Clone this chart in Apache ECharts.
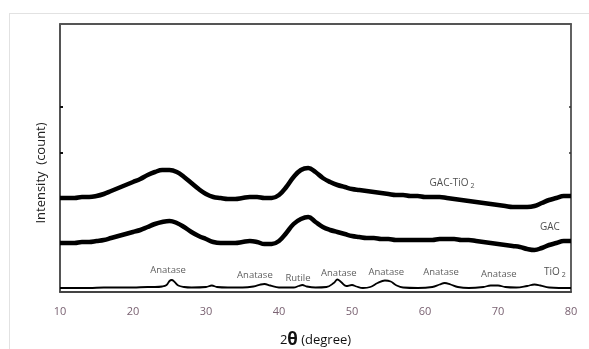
<!DOCTYPE html>
<html>
<head>
<meta charset="utf-8">
<script src="https://cdn.jsdelivr.net/npm/echarts@6/dist/echarts.min.js"></script>
<style>html,body{margin:0;padding:0;background:#fff;}#c{width:589px;height:349px;}</style>
</head>
<body>
<div id="c"></div>
<script>
// 2-theta angles (degree) for the broad GAC patterns
var gacAngles = [10,11,12,13,14,15,16,17,18,19,20,21,22,23,24,25,26,27,28,29,30,31,32,33,34,35,36,37,38,39,40,41,42,43,44,45,46,47,48,49,50,51,52,53,54,55,56,57,58,59,60,61,62,63,64,65,66,67,68,69,70,71,72,73,74,75,76,77,78,79,80];
// Intensity (arbitrary counts)
var gacTio2 = [94,94,94,95,95,96,98,101,104,107,110,113,117,120,122,122,120,115,109,103,98,95,94,93,93,94,95,95,94,94,97,105,115,122,124,120,114,110,107,105,103,102,101,100,99,98,97,97,96,96,95,95,95,94,93,92,91,90,89,88,87,86,85,85,85,86,89,92,94,96,96];
var gac = [49,49,49,50,50,51,52,54,56,58,60,62,65,68,70,71,69,65,60,56,53,50,49,49,49,50,51,50,48,48,51,59,68,73,75,70,65,62,60,58,56,55,54,54,53,53,52,52,52,52,52,52,53,53,53,52,52,51,50,49,48,47,46,45,43,42,44,47,49,51,51];
var tio2Angles = [10,12,14,16,18,20,22,23,24,24.6,25,25.3,25.7,26.2,27,28,30,30.8,31.5,33,35,36.5,37.5,38,38.8,40,42,42.7,43.2,43.8,45,46.5,47.5,48,48.5,49.2,50,50.6,51.5,52.5,53.5,54.5,55.3,56,57,59,61,62,62.7,63.5,64.5,66,68,69,70,71,72.5,74,75,75.8,77,80];
var tio2 = [4,4,4,4.5,4.5,4.5,5,5,5.5,7,11,12,10,6.5,5,4.5,5,6.5,5,4.5,4.5,5.5,7.5,8,6.5,4.5,4.5,6,7,5.5,4.5,5,9,12.5,10,6,7,5.5,4,5,9,11.5,10.5,7,4.5,4,5,7.5,9,7.5,5,4,5,6.5,6.5,5,4.5,6,7.5,6.5,4.5,4];
// Peak annotations
var peakNames = ["Anatase","Anatase","Rutile","Anatase","Anatase","Anatase","Anatase"];
var peakAngles = [24.8,36.7,42.6,48.2,54.7,62.2,70.1];
var peakLabelY = [22,17,14,19,20,20,18];
// Series name labels
var seriesNames = ["GAC-TiO2","GAC","TiO2"];
var seriesLabelAngles = [63.7,77.1,77.8];
var seriesLabelY = [109,65,20];
var yTickMarks = [139,185];

function pairs(xs, ys){ return xs.map(function(x,i){ return [x, ys[i]]; }); }

var chart = echarts.init(document.getElementById('c'));
var fontFam = '"Open Sans", "Noto Sans", sans-serif';
var nameFmt = function(n){
  if (n === 'GAC-TiO2') return '{a|GAC-TiO}{s|2}';
  if (n === 'TiO2') return '{a|TiO}{s|2}';
  return '{a|' + n + '}';
};
var richLbl = {
  a: {fontSize: 10, color: '#222', fontFamily: fontFam},
  s: {fontSize: 7, color: '#222', fontFamily: fontFam, padding: [6,0,0,2]}
};

chart.setOption({
  animation: false,
  backgroundColor: '#fff',
  graphic: [
    {type: 'line', shape: {x1: 9, y1: 13.5, x2: 589, y2: 13.5}, style: {stroke: '#e2e2e2', lineWidth: 1}},
    {type: 'line', shape: {x1: 9.5, y1: 13, x2: 9.5, y2: 349}, style: {stroke: '#e2e2e2', lineWidth: 1}}
  ],
  grid: {left: 60, right: 18, top: 24, bottom: 57, outerBoundsMode: 'none', containLabel: false},
  xAxis: [{
    type: 'value', min: 10, max: 80, interval: 10,
    axisLine: {show: true, onZero: false, lineStyle: {color: '#444', width: 2}},
    axisTick: {show: false},
    splitLine: {show: false},
    axisLabel: {color: '#7a6272', fontSize: 11, fontFamily: fontFam, margin: 14},
    name: '{n|2}{t|θ}{n| (degree)}',
    nameLocation: 'middle', nameGap: 40,
    nameTextStyle: {rich: {
      n: {fontSize: 13, color: '#111', fontFamily: fontFam},
      t: {fontSize: 17, fontWeight: 'bold', color: '#111', fontFamily: fontFam}
    }}
  }, {
    type: 'value', min: 10, max: 80, position: 'top',
    axisLine: {show: true, onZero: false, lineStyle: {color: '#555', width: 2}},
    axisTick: {show: false}, axisLabel: {show: false}, splitLine: {show: false}
  }],
  yAxis: [{
    type: 'value', min: 0, max: 268,
    axisLine: {show: true, onZero: false, lineStyle: {color: '#2a2a2a', width: 1.6}},
    axisTick: {show: true, inside: true, length: 3, lineStyle: {color: '#111', width: 2}, customValues: yTickMarks},
    axisLabel: {show: false},
    splitLine: {show: false},
    name: 'Intensity  (count)', nameLocation: 'middle', nameGap: 12,
    nameTextStyle: {fontSize: 13, color: '#222', fontFamily: fontFam, padding: [0, 30, 0, 0]}
  }, {
    type: 'value', min: 0, max: 268, position: 'right',
    axisLine: {show: true, onZero: false, lineStyle: {color: '#3a3a3a', width: 1.6}},
    axisTick: {show: true, inside: true, length: 2, lineStyle: {color: '#333', width: 1.5}, customValues: yTickMarks},
    axisLabel: {show: false}, splitLine: {show: false}
  }],
  series: [{
    name: 'GAC-TiO2', type: 'line', data: pairs(gacAngles, gacTio2), showSymbol: false, smooth: 0.4,
    lineStyle: {color: '#000', width: 4.5}, z: 3
  }, {
    name: 'GAC', type: 'line', data: pairs(gacAngles, gac), showSymbol: false, smooth: 0.4,
    lineStyle: {color: '#000', width: 4.5}, z: 3
  }, {
    name: 'TiO2', type: 'line', data: pairs(tio2Angles, tio2), showSymbol: false, smooth: 0.4,
    lineStyle: {color: '#000', width: 1.8}, z: 3
  }, {
    type: 'scatter', symbolSize: 0, silent: true,
    data: peakAngles.map(function(a,i){ return {name: peakNames[i], value: [a, peakLabelY[i]]}; }),
    label: {show: true, position: 'inside', formatter: '{b}', fontSize: 9.5, color: '#333', fontFamily: fontFam}
  }, {
    type: 'scatter', symbolSize: 0, silent: true,
    data: seriesLabelAngles.map(function(a,i){ return {name: seriesNames[i], value: [a, seriesLabelY[i]]}; }),
    label: {show: true, position: 'inside', formatter: function(p){ return nameFmt(p.name); }, rich: richLbl}
  }]
});
</script>
</body>
</html>
